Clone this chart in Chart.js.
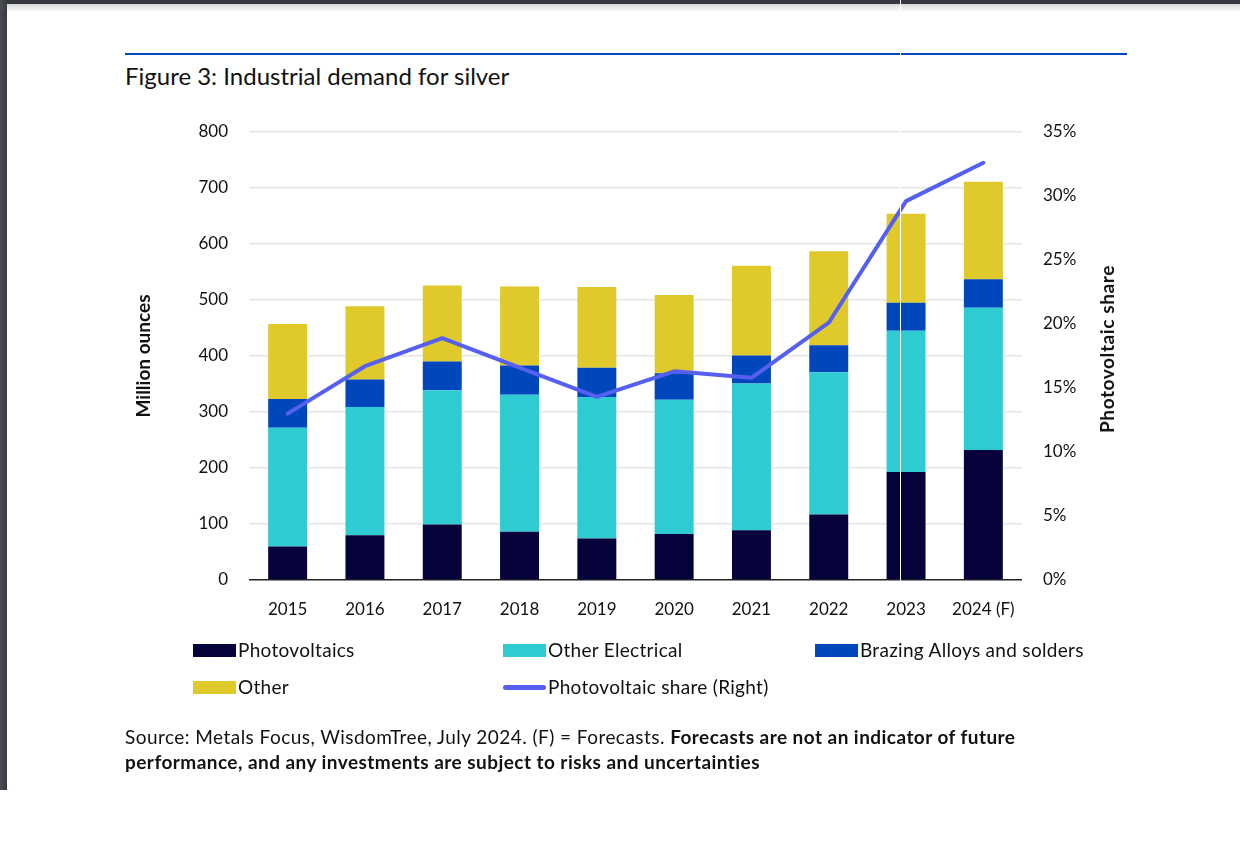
<!DOCTYPE html>
<html>
<head>
<meta charset="utf-8">
<script src="https://cdn.jsdelivr.net/npm/chart.js@4.4.1/dist/chart.umd.min.js"></script>
<style>
  html, body { margin: 0; padding: 0; background: #fff; }
  body { width: 1240px; height: 848px; position: relative; overflow: hidden; font-family: Lato, "Noto Sans", sans-serif; color: #111; }
  #topbar { position: absolute; left: 0; top: 0; width: 1240px; height: 4px; background: #35393d; }
  #topshadow { position: absolute; left: 0; top: 4px; width: 1240px; height: 8px; background: linear-gradient(#d8d8d8, rgba(255,255,255,0)); }
  #leftbar { position: absolute; left: 0; top: 0; width: 7px; height: 790px; background: linear-gradient(90deg, #4a4e52, #383c40); }
  #rule { position: absolute; left: 125px; top: 53px; width: 1002px; height: 2px; background: #0047bb; }
  #title { position: absolute; left: 125px; top: 61px; font-size: 24px; line-height: 30px; white-space: nowrap; color: #111; }
  #chartwrap { position: absolute; left: 0; top: 0; width: 1240px; height: 848px; }
  #rtitle { position: absolute; left: 1107px; top: 349px; transform: translate(-50%, -50%) rotate(-90deg); font-size: 19px; font-weight: 700; letter-spacing: 0.6px; white-space: nowrap; color: #111; line-height: 22px; }
  #legend { position: absolute; left: 193px; top: 638px; width: 940px; height: 70px; }
  .li { position: absolute; display: flex; align-items: center; font-size: 19px; letter-spacing: 0.3px; line-height: 24px; white-space: nowrap; color: #111; }
  .sw { width: 43px; height: 13px; margin-right: 2px; }
  .swl { width: 43px; height: 5px; border-radius: 3px; margin-right: 2px; }
  #source { position: absolute; left: 125px; top: 724px; font-size: 19px; letter-spacing: 0.45px; line-height: 25px; color: #111; white-space: nowrap; }
  #source b { font-weight: 700; }
  .artv { position: absolute; left: 900px; top: 0; width: 1px; height: 600px; background: #fff; z-index: 5; }
</style>
</head>
<body>
<div id="topbar"></div>
<div id="topshadow"></div>
<div id="leftbar"></div>
<div id="rule"></div>
<div id="title">Figure 3: Industrial demand for silver</div>
<div id="chartwrap"><canvas id="c" width="1240" height="848"></canvas></div>
<div id="rtitle">Photovoltaic share</div>
<div class="artv"></div>
<div id="legend"></div>
<div id="source">Source: Metals Focus, WisdomTree, July 2024. (F) = Forecasts. <b>Forecasts are not an indicator of future</b><br><b>performance, and any investments are subject to risks and uncertainties</b></div>
<script>
const years = ['2015','2016','2017','2018','2019','2020','2021','2022','2023','2024 (F)'];
const photovoltaics   = [60, 80, 99, 86, 74, 82, 89, 117, 193, 232];
const otherElectrical = [212, 229, 240, 245, 253, 240, 262, 254, 252, 254];
const brazingAlloys   = [51, 49, 51, 52, 52, 47, 50, 48, 50, 51];
const otherUses       = [134, 131, 136, 141, 144, 140, 160, 168, 159, 174];
const pvShare         = [13.0, 16.7, 18.9, 16.6, 14.3, 16.3, 15.8, 20.1, 29.6, 32.6];
const leftTicks = [0, 100, 200, 300, 400, 500, 600, 700, 800];
const rightTicks = [0, 5, 10, 15, 20, 25, 30, 35];

const FONT = 'Lato, "Noto Sans", sans-serif';
const colors = { pv: '#05033a', oe: '#2ecbd2', br: '#0047bb', ot: '#dfc92b', line: '#5560f0' };

const chart = new Chart(document.getElementById('c'), {
  type: 'bar',
  data: {
    labels: years,
    datasets: [
      { type: 'line', label: 'Photovoltaic share (Right)', data: pvShare, yAxisID: 'y1', order: 0,
        borderColor: colors.line, backgroundColor: colors.line, borderWidth: 4, pointRadius: 0,
        borderCapStyle: 'round', borderJoinStyle: 'round', tension: 0 },
      { label: 'Photovoltaics', data: photovoltaics, backgroundColor: colors.pv, stack: 's', order: 1 },
      { label: 'Other Electrical', data: otherElectrical, backgroundColor: colors.oe, stack: 's', order: 1 },
      { label: 'Brazing Alloys and solders', data: brazingAlloys, backgroundColor: colors.br, stack: 's', order: 1 },
      { label: 'Other', data: otherUses, backgroundColor: colors.ot, stack: 's', order: 1 }
    ]
  },
  options: {
    responsive: false,
    animation: false,
    categoryPercentage: 0.8,
    barPercentage: 0.63,
    layout: { padding: { left: 132, right: 122, top: 132, bottom: 208 } },
    plugins: { legend: { display: false }, tooltip: { enabled: false } },
    scales: {
      x: {
        stacked: true,
        grid: { display: false },
        border: { display: false },
        ticks: { color: '#111', font: { family: FONT, size: 17 }, padding: 11, maxRotation: 0, autoSkip: false },
        afterFit: s => { s.height = 60; }
      },
      y: {
        stacked: true,
        position: 'left',
        min: 0, max: 800,
        afterBuildTicks: s => { s.ticks = leftTicks.map(v => ({ value: v })); },
        grid: {
          drawTicks: false,
          color: c => (c.tick && c.tick.value === 0) ? '#222' : '#e6e6e6',
          lineWidth: 1.5
        },
        border: { display: false },
        ticks: { color: '#111', font: { family: FONT, size: 17 }, padding: 21 },
        title: { display: true, text: 'Million ounces', color: '#111', font: { family: FONT, size: 19, weight: 'bold' }, padding: { top: 0, bottom: 0 } },
        afterFit: s => { s.width = 117; }
      },
      y1: {
        position: 'right',
        min: 0, max: 35,
        afterBuildTicks: s => { s.ticks = rightTicks.map(v => ({ value: v })); },
        grid: { display: false, drawTicks: false },
        border: { display: false },
        ticks: { color: '#111', font: { family: FONT, size: 17 }, padding: 21, callback: v => v + '%' },
        title: { display: false },
        afterFit: s => { s.width = 96; }
      }
    }
  }
});

// HTML legend built from the chart datasets
const legend = document.getElementById('legend');
const pos = {
  'Photovoltaics': [0, 0],
  'Other Electrical': [310, 0],
  'Brazing Alloys and solders': [622, 0],
  'Other': [0, 37],
  'Photovoltaic share (Right)': [310, 37]
};
chart.data.datasets.forEach(ds => {
  const el = document.createElement('div');
  el.className = 'li';
  const p = pos[ds.label];
  el.style.left = p[0] + 'px';
  el.style.top = p[1] + 'px';
  const sw = document.createElement('span');
  sw.className = ds.type === 'line' ? 'swl' : 'sw';
  sw.style.background = ds.type === 'line' ? ds.borderColor : ds.backgroundColor;
  el.appendChild(sw);
  const t = document.createElement('span');
  t.textContent = ds.label;
  el.appendChild(t);
  legend.appendChild(el);
});
</script>
</body>
</html>
